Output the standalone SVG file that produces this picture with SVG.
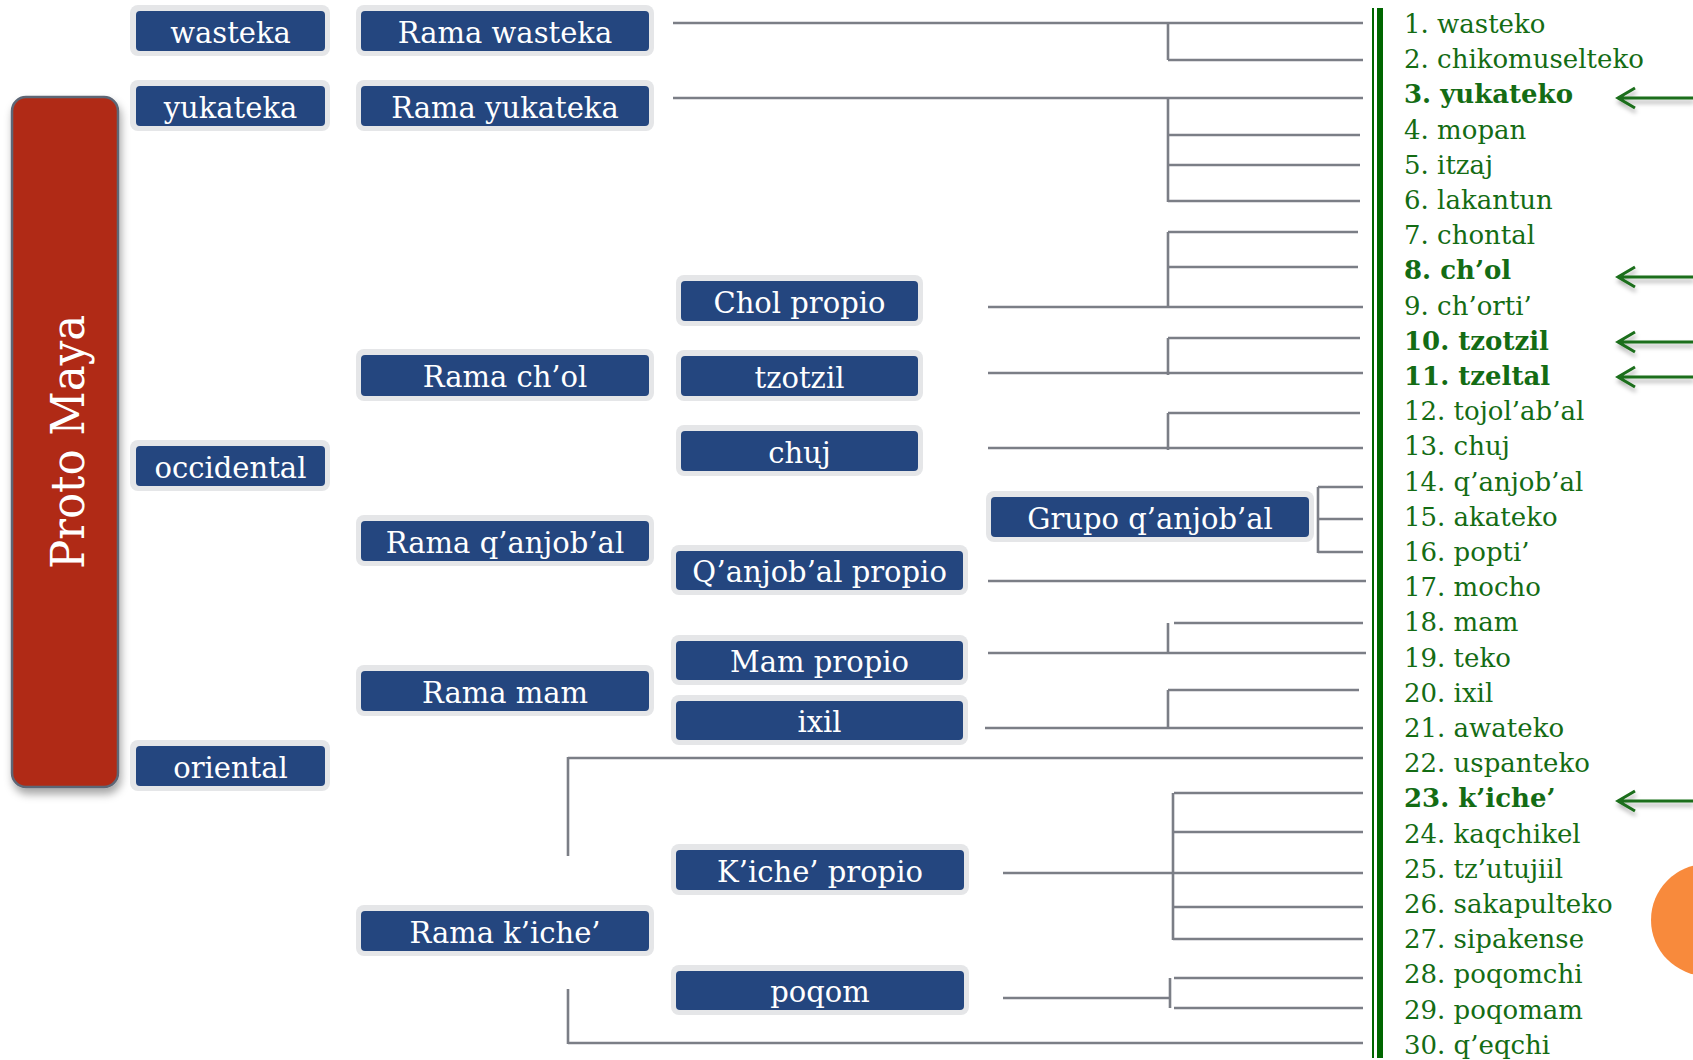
<svg xmlns="http://www.w3.org/2000/svg" width="1693" height="1060" viewBox="0 0 1693 1060">
<defs>
<filter id="sh" x="-20%" y="-10%" width="140%" height="120%">
<feDropShadow dx="2" dy="6" stdDeviation="4" flood-color="#000" flood-opacity="0.35"/>
</filter>
<filter id="ash" x="-10%" y="-100%" width="120%" height="400%">
<feDropShadow dx="1" dy="4" stdDeviation="2" flood-color="#000" flood-opacity="0.3"/>
</filter>
<style>
.ring{fill:#E5E6E8}
.box{fill:#24467F}
.lbl{font-family:"DejaVu Serif","Liberation Serif",serif;font-size:29px;fill:#fff;text-anchor:middle}
.conn line{stroke:#7B7E86;stroke-width:2.6;fill:none}
.lst{font-family:"DejaVu Serif","Liberation Serif",serif;font-size:26px;fill:#146C14}
.b{font-weight:bold}
.arr{stroke:#1A6E1A;stroke-width:3;fill:none}
</style>
</defs>
<rect width="1693" height="1060" fill="#fff"/>

<circle cx="1707" cy="920" r="56" fill="#F88A3C"/>

<g id="proto-maya">
<rect x="12" y="97" width="106" height="690" rx="14" fill="#B02C17" stroke="#5D6675" stroke-width="2.5" filter="url(#sh)"/>
<text transform="translate(84,442) rotate(-90)" font-family="'DejaVu Serif','Liberation Serif',serif" font-size="46" fill="#fff" text-anchor="middle" textLength="254" lengthAdjust="spacingAndGlyphs">Proto Maya</text>
</g>

<g id="wasteka"><rect class="ring" x="130" y="5" width="200" height="51" rx="8"/><rect class="box" x="136" y="11" width="189" height="40" rx="4"/><text class="lbl" x="230.5" y="43">wasteka</text></g>
<g id="yukateka"><rect class="ring" x="130" y="80" width="200" height="51" rx="8"/><rect class="box" x="136" y="86" width="189" height="40" rx="4"/><text class="lbl" x="230.5" y="118">yukateka</text></g>
<g id="occidental"><rect class="ring" x="130" y="440" width="200" height="51" rx="8"/><rect class="box" x="136" y="446" width="189" height="40" rx="4"/><text class="lbl" x="230.5" y="478">occidental</text></g>
<g id="oriental"><rect class="ring" x="130" y="740" width="200" height="51" rx="8"/><rect class="box" x="136" y="746" width="189" height="40" rx="4"/><text class="lbl" x="230.5" y="778">oriental</text></g>

<g id="rama-wasteka"><rect class="ring" x="356" y="5" width="298" height="51" rx="8"/><rect class="box" x="361" y="11" width="288" height="40" rx="4"/><text class="lbl" x="505" y="43">Rama wasteka</text></g>
<g id="rama-yukateka"><rect class="ring" x="356" y="80" width="298" height="51" rx="8"/><rect class="box" x="361" y="86" width="288" height="40" rx="4"/><text class="lbl" x="505" y="118">Rama yukateka</text></g>
<g id="rama-chol"><rect class="ring" x="356" y="349" width="298" height="52" rx="8"/><rect class="box" x="361" y="355" width="288" height="41" rx="4"/><text class="lbl" x="505" y="387">Rama ch’ol</text></g>
<g id="rama-qanjobal"><rect class="ring" x="356" y="515" width="298" height="51" rx="8"/><rect class="box" x="361" y="521" width="288" height="40" rx="4"/><text class="lbl" x="505" y="553">Rama q’anjob’al</text></g>
<g id="rama-mam"><rect class="ring" x="356" y="665" width="298" height="51" rx="8"/><rect class="box" x="361" y="671" width="288" height="40" rx="4"/><text class="lbl" x="505" y="703">Rama mam</text></g>
<g id="rama-kiche"><rect class="ring" x="356" y="905" width="298" height="51" rx="8"/><rect class="box" x="361" y="911" width="288" height="40" rx="4"/><text class="lbl" x="505" y="943">Rama k’iche’</text></g>

<g id="chol-propio"><rect class="ring" x="676" y="275" width="247" height="51" rx="8"/><rect class="box" x="681" y="281" width="237" height="40" rx="4"/><text class="lbl" x="799.5" y="313">Chol propio</text></g>
<g id="tzotzil"><rect class="ring" x="676" y="350" width="247" height="51" rx="8"/><rect class="box" x="681" y="356" width="237" height="40" rx="4"/><text class="lbl" x="799.5" y="388">tzotzil</text></g>
<g id="chuj"><rect class="ring" x="676" y="425" width="247" height="51" rx="8"/><rect class="box" x="681" y="431" width="237" height="40" rx="4"/><text class="lbl" x="799.5" y="463">chuj</text></g>
<g id="grupo-qanjobal"><rect class="ring" x="986" y="491" width="328" height="51" rx="8"/><rect class="box" x="991" y="497" width="318" height="40" rx="4"/><text class="lbl" x="1150" y="529">Grupo q’anjob’al</text></g>
<g id="qanjobal-propio"><rect class="ring" x="671" y="545" width="297" height="50" rx="8"/><rect class="box" x="676" y="551" width="287" height="39" rx="4"/><text class="lbl" x="819.5" y="582">Q’anjob’al propio</text></g>
<g id="mam-propio"><rect class="ring" x="671" y="635" width="297" height="50" rx="8"/><rect class="box" x="676" y="641" width="287" height="39" rx="4"/><text class="lbl" x="819.5" y="672">Mam propio</text></g>
<g id="ixil"><rect class="ring" x="671" y="695" width="297" height="50" rx="8"/><rect class="box" x="676" y="701" width="287" height="39" rx="4"/><text class="lbl" x="819.5" y="732">ixil</text></g>
<g id="kiche-propio"><rect class="ring" x="671" y="844" width="298" height="51" rx="8"/><rect class="box" x="676" y="850" width="288" height="40" rx="4"/><text class="lbl" x="820" y="882">K’iche’ propio</text></g>
<g id="poqom"><rect class="ring" x="671" y="965" width="298" height="50" rx="8"/><rect class="box" x="676" y="971" width="288" height="39" rx="4"/><text class="lbl" x="820" y="1002">poqom</text></g>

<g id="connectors" class="conn">
<line x1="673" y1="23" x2="1363" y2="23"/>
<line x1="1168" y1="23" x2="1168" y2="60"/>
<line x1="1168" y1="60" x2="1363" y2="60"/>

<line x1="673" y1="98" x2="1363" y2="98"/>
<line x1="1168" y1="98" x2="1168" y2="202"/>
<line x1="1168" y1="135" x2="1360" y2="135"/>
<line x1="1168" y1="165" x2="1360" y2="165"/>
<line x1="1168" y1="201" x2="1360" y2="201"/>

<line x1="988" y1="307" x2="1363" y2="307"/>
<line x1="1168" y1="232" x2="1168" y2="307"/>
<line x1="1168" y1="232" x2="1358" y2="232"/>
<line x1="1168" y1="267" x2="1358" y2="267"/>

<line x1="988" y1="373" x2="1363" y2="373"/>
<line x1="1168" y1="338" x2="1168" y2="375"/>
<line x1="1168" y1="338" x2="1360" y2="338"/>

<line x1="988" y1="448" x2="1363" y2="448"/>
<line x1="1168" y1="413" x2="1168" y2="450"/>
<line x1="1168" y1="413" x2="1360" y2="413"/>

<line x1="1318" y1="487" x2="1318" y2="553"/>
<line x1="1318" y1="487" x2="1363" y2="487"/>
<line x1="1318" y1="519" x2="1363" y2="519"/>
<line x1="1318" y1="552" x2="1363" y2="552"/>

<line x1="988" y1="581" x2="1366" y2="581"/>

<line x1="988" y1="653" x2="1366" y2="653"/>
<line x1="1168" y1="623" x2="1168" y2="653"/>
<line x1="1174" y1="623" x2="1363" y2="623"/>

<line x1="985" y1="728" x2="1363" y2="728"/>
<line x1="1168" y1="690" x2="1168" y2="728"/>
<line x1="1168" y1="690" x2="1359" y2="690"/>

<line x1="568" y1="758" x2="1363" y2="758"/>
<line x1="568" y1="757" x2="568" y2="856"/>

<line x1="1003" y1="873" x2="1363" y2="873"/>
<line x1="1173" y1="793" x2="1173" y2="940"/>
<line x1="1174" y1="793" x2="1363" y2="793"/>
<line x1="1173" y1="832" x2="1363" y2="832"/>
<line x1="1173" y1="907" x2="1363" y2="907"/>
<line x1="1173" y1="939" x2="1363" y2="939"/>

<line x1="1003" y1="998" x2="1170" y2="998"/>
<line x1="1170" y1="978" x2="1170" y2="1008"/>
<line x1="1174" y1="978" x2="1363" y2="978"/>
<line x1="1174" y1="1008" x2="1363" y2="1008"/>

<line x1="568" y1="989" x2="568" y2="1044"/>
<line x1="568" y1="1043" x2="1363" y2="1043"/>
</g>

<g id="divider">
<rect x="1372" y="8" width="2" height="1050" fill="#006600"/>
<rect x="1377" y="8" width="6" height="1050" fill="#006600"/>
</g>

<g id="language-list" class="lst">
<text x="1404" y="33">1. wasteko</text>
<text x="1404" y="68.2">2. chikomuselteko</text>
<text x="1404" y="103.4" class="b">3. yukateko</text>
<text x="1404" y="138.6">4. mopan</text>
<text x="1404" y="173.8">5. itzaj</text>
<text x="1404" y="209">6. lakantun</text>
<text x="1404" y="244.2">7. chontal</text>
<text x="1404" y="279.4" class="b">8. ch’ol</text>
<text x="1404" y="314.6">9. ch’orti’</text>
<text x="1404" y="349.8" class="b">10. tzotzil</text>
<text x="1404" y="385" class="b">11. tzeltal</text>
<text x="1404" y="420.2">12. tojol’ab’al</text>
<text x="1404" y="455.4">13. chuj</text>
<text x="1404" y="490.6">14. q’anjob’al</text>
<text x="1404" y="525.8">15. akateko</text>
<text x="1404" y="561">16. popti’</text>
<text x="1404" y="596.2">17. mocho</text>
<text x="1404" y="631.4">18. mam</text>
<text x="1404" y="666.6">19. teko</text>
<text x="1404" y="701.8">20. ixil</text>
<text x="1404" y="737">21. awateko</text>
<text x="1404" y="772.2">22. uspanteko</text>
<text x="1404" y="807.4" class="b">23. k’iche’</text>
<text x="1404" y="842.6">24. kaqchikel</text>
<text x="1404" y="877.8">25. tz’utujiil</text>
<text x="1404" y="913">26. sakapulteko</text>
<text x="1404" y="948.2">27. sipakense</text>
<text x="1404" y="983.4">28. poqomchi</text>
<text x="1404" y="1018.6">29. poqomam</text>
<text x="1404" y="1053.8">30. q’eqchi</text>
</g>

<g id="arrows" class="arr" filter="url(#ash)">
<path d="M1693 98 H1618 M1635 88 L1618 98 L1635 108"/>
<path d="M1693 277 H1618 M1635 267 L1618 277 L1635 287"/>
<path d="M1693 342 H1618 M1635 332 L1618 342 L1635 352"/>
<path d="M1693 377 H1618 M1635 367 L1618 377 L1635 387"/>
<path d="M1693 801 H1618 M1635 791 L1618 801 L1635 811"/>
</g>
</svg>
